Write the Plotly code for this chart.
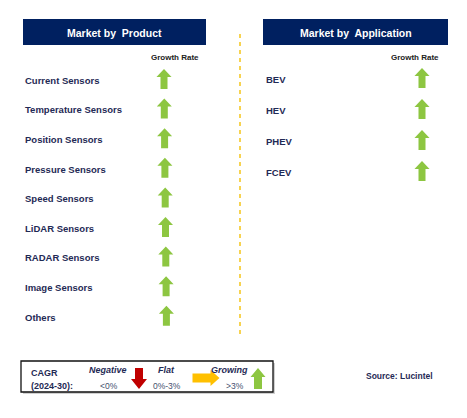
import plotly.graph_objects as go

# data
products = ["Current Sensors", "Temperature Sensors", "Position Sensors",
            "Pressure Sensors", "Speed Sensors", "LiDAR Sensors",
            "RADAR Sensors", "Image Sensors", "Others"]
product_growth = ["Growing"] * len(products)

applications = ["BEV", "HEV", "PHEV", "FCEV"]
application_growth = ["Growing"] * len(applications)

legend_labels = ["Negative", "Flat", "Growing"]
legend_ranges = ["<0%", "0%-3%", ">3%"]

NAVY = "#002060"
TEXT = "#1F2A55"
GREEN = "#8DC641"
RED = "#C00000"
ORANGE = "#FFC000"
FONT = "Liberation Sans"


def arrow(cx, cy, direction, length=20, head_w=15, shaft_w=7, head_h=8):
    """polygon of a block arrow centred at (cx, cy)"""
    h = length / 2
    s = shaft_w / 2
    w = head_w / 2
    if direction == "up":
        pts = [(cx - s, cy + h), (cx - s, cy - h + head_h), (cx - w, cy - h + head_h),
               (cx, cy - h), (cx + w, cy - h + head_h), (cx + s, cy - h + head_h),
               (cx + s, cy + h)]
    elif direction == "down":
        pts = [(cx - s, cy - h), (cx - s, cy + h - head_h), (cx - w, cy + h - head_h),
               (cx, cy + h), (cx + w, cy + h - head_h), (cx + s, cy + h - head_h),
               (cx + s, cy - h)]
    else:
        pts = [(cx - h, cy - s), (cx + h - head_h, cy - s), (cx + h - head_h, cy - w),
               (cx + h, cy), (cx + h - head_h, cy + w), (cx + h - head_h, cy + s),
               (cx - h, cy + s)]
    pts.append(pts[0])
    return [p[0] for p in pts], [p[1] for p in pts]


def arrow_trace(centres, direction, color, **kw):
    xs, ys = [], []
    for cx, cy in centres:
        ax, ay = arrow(cx, cy, direction, **kw)
        xs += ax + [None]
        ys += ay + [None]
    return go.Scatter(x=xs, y=ys, mode="lines", fill="toself", fillcolor=color,
                      line=dict(width=0, color=color), hoverinfo="skip",
                      showlegend=False)


direction_of = {"Growing": "up", "Negative": "down", "Flat": "right"}
color_of = {"Growing": GREEN, "Negative": RED, "Flat": ORANGE}

fig = go.Figure()

# left panel
left_y = [79 + i * 29.6 for i in range(len(products))]
fig.add_trace(go.Scatter(x=[25] * len(products), y=[y + 2.5 for y in left_y], mode="text",
                         text=["<b>%s</b>" % p for p in products],
                         textposition="middle right",
                         textfont=dict(family=FONT, size=9.5, color=TEXT),
                         hoverinfo="skip", showlegend=False))
for g in set(product_growth):
    c = [(164 + i * 0.3, y) for i, (y, gg) in enumerate(zip(left_y, product_growth)) if gg == g]
    fig.add_trace(arrow_trace(c, direction_of[g], color_of[g]))

# right panel
right_y = [78 + i * 31 for i in range(len(applications))]
fig.add_trace(go.Scatter(x=[266] * len(applications), y=[y + 2.5 for y in right_y], mode="text",
                         text=["<b>%s</b>" % a for a in applications],
                         textposition="middle right",
                         textfont=dict(family=FONT, size=9.5, color=TEXT),
                         hoverinfo="skip", showlegend=False))
for g in set(application_growth):
    c = [(422, y) for y, gg in zip(right_y, application_growth) if gg == g]
    fig.add_trace(arrow_trace(c, direction_of[g], color_of[g]))

# headers
for x0, x1, title, gx in [(23, 206, "Market by  Product", 175),
                          (263, 448, "Market by  Application", 415)]:
    fig.add_shape(type="rect", x0=x0, x1=x1, y0=19, y1=45,
                  fillcolor=NAVY, line_width=0, layer="below")
    fig.add_annotation(x=(x0 + x1) / 2, y=32.5, text="<b>%s</b>" % title,
                       showarrow=False, font=dict(family=FONT, size=10.5, color="white"))
    fig.add_annotation(x=gx, y=57, text="<b>Growth Rate</b>", showarrow=False,
                       font=dict(family=FONT, size=8, color="#222222"))

# divider
fig.add_shape(type="line", x0=240, x1=240, y0=34, y1=334,
              line=dict(color="#F5C518", width=1.5, dash="4px,4px"))

# legend box
fig.add_shape(type="rect", x0=23, x1=275, y0=363, y1=394,
              fillcolor="#D0D0D0", line_width=0, layer="below")
fig.add_shape(type="rect", x0=21, x1=273, y0=361, y1=392,
              fillcolor="white", line=dict(color="#111111", width=1.3), layer="below")
fig.add_annotation(x=29, y=373, text="<b>CAGR</b>", xanchor="left", showarrow=False,
                   font=dict(family=FONT, size=9, color=TEXT))
fig.add_annotation(x=29, y=386, text="<b>(2024-30):</b>", xanchor="left", showarrow=False,
                   font=dict(family=FONT, size=9, color=TEXT))
label_x = [108, 166, 229]
range_x = [109, 167, 235]
for lab, rng, lx, rx in zip(legend_labels, legend_ranges, label_x, range_x):
    fig.add_annotation(x=lx, y=370, text="<b><i>%s</i></b>" % lab, showarrow=False,
                       font=dict(family=FONT, size=9, color=TEXT))
    fig.add_annotation(x=rx, y=386, text=rng, showarrow=False,
                       font=dict(family=FONT, size=8.5, color="#44506E"))
fig.add_trace(arrow_trace([(139, 378.5)], "down", RED, length=21, head_w=16, shaft_w=8, head_h=10))
fig.add_trace(arrow_trace([(206, 378)], "right", ORANGE, length=27, head_w=16, shaft_w=9, head_h=9))
fig.add_trace(arrow_trace([(258, 378.5)], "up", GREEN, length=21, head_w=15, shaft_w=8, head_h=9))

fig.add_annotation(x=399, y=376, text="<b>Source: Lucintel</b>", showarrow=False,
                   font=dict(family=FONT, size=8.5, color=TEXT))

fig.update_layout(width=467, height=418, margin=dict(l=0, r=0, t=0, b=0),
                  plot_bgcolor="white", paper_bgcolor="white",
                  xaxis=dict(range=[0, 467], visible=False, fixedrange=True),
                  yaxis=dict(range=[418, 0], visible=False, fixedrange=True))
fig.write_html("out.html", config={"displayModeBar": False},
               post_script="document.body.style.margin='0';")
